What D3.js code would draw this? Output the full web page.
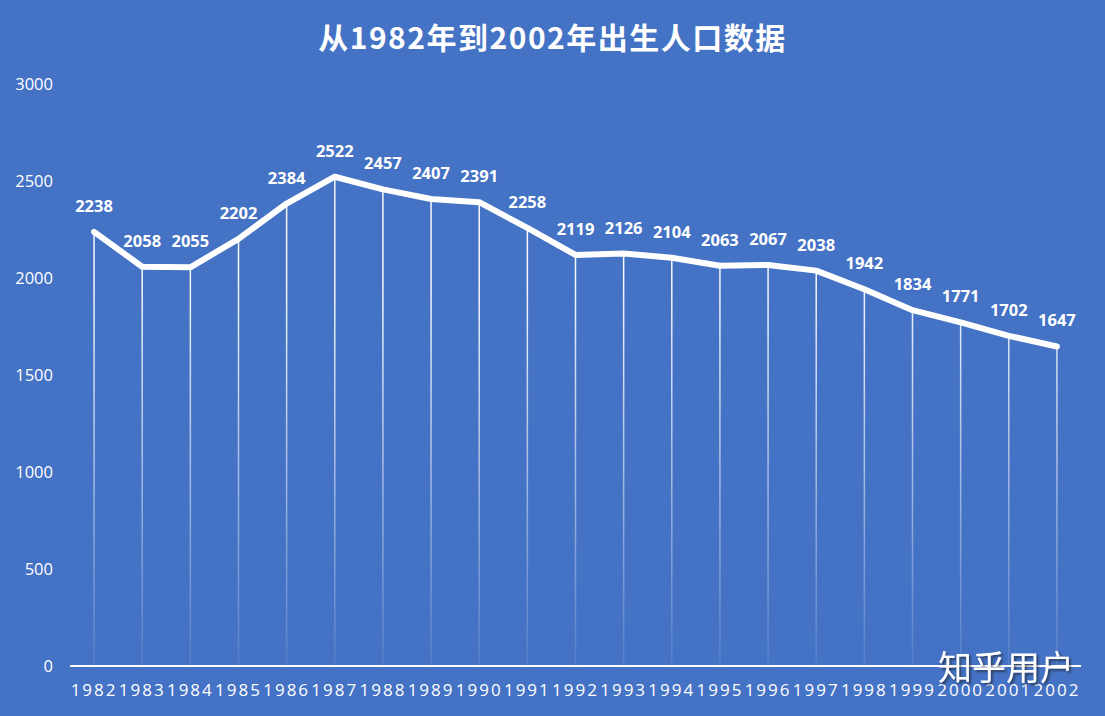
<!DOCTYPE html>
<html>
<head>
<meta charset="utf-8">
<script src="https://cdn.jsdelivr.net/npm/d3@7"></script>
<style>
  html, body { margin: 0; padding: 0; background: #4472c4; }
  svg { display: block; }
</style>
</head>
<body>
<div id="chart"></div>
<script>
const years = ['1982', '1983', '1984', '1985', '1986', '1987', '1988', '1989', '1990', '1991', '1992',
    '1993', '1994', '1995', '1996', '1997', '1998', '1999', '2000', '2001', '2002'];
const births = [2238, 2058, 2055, 2202, 2384, 2522, 2457, 2407, 2391, 2258, 2119,
    2126, 2104, 2063, 2067, 2038, 1942, 1834, 1771, 1702, 1647];
const yTicks = [0, 500, 1000, 1500, 2000, 2500, 3000];
const titleText = '从1982年到2002年出生人口数据';

const W = 1105, H = 716;
const margin = { top: 84, right: 24, bottom: 50, left: 70 };
const plotW = W - margin.left - margin.right;
const plotH = H - margin.top - margin.bottom;

const svg = d3.select('#chart')
    .append('svg')
    .attr('width', W)
    .attr('height', H);

svg.append('rect')
    .attr('width', W)
    .attr('height', H)
    .attr('fill', '#4472c4');

// fading drop lines
const defs = svg.append('defs');
const grad = defs.append('linearGradient')
    .attr('id', 'dropFade')
    .attr('gradientUnits', 'userSpaceOnUse')
    .attr('x1', 0).attr('x2', 0)
    .attr('y1', 200).attr('y2', plotH);
grad.append('stop').attr('offset', '0%').attr('stop-color', '#fff').attr('stop-opacity', 0.95);
grad.append('stop').attr('offset', '100%').attr('stop-color', '#fff').attr('stop-opacity', 0.08);

const shadow = defs.append('filter')
    .attr('id', 'wmShadow')
    .attr('x', '-10%').attr('y', '-20%')
    .attr('width', '130%').attr('height', '150%');
shadow.append('feDropShadow')
    .attr('dx', 2).attr('dy', 2)
    .attr('stdDeviation', 1)
    .attr('flood-color', '#222')
    .attr('flood-opacity', 0.6);

const g = svg.append('g')
    .attr('transform', `translate(${margin.left},${margin.top})`);

const x = d3.scaleBand()
    .domain(years)
    .range([0, plotW]);

const y = d3.scaleLinear()
    .domain([0, 3000])
    .range([plotH, 0]);

const cx = d => x(d) + x.bandwidth() / 2;

// title
svg.append('text')
    .attr('x', W / 2)
    .attr('y', 49)
    .attr('text-anchor', 'middle')
    .style('font-family', '"Noto Sans CJK SC", "Noto Sans", sans-serif')
    .style('font-size', '30px')
    .style('font-weight', 'bold')
    .style('letter-spacing', '1.5px')
    .attr('fill', '#fff')
    .text(titleText);

// y tick labels (no gridlines)
g.append('g')
    .selectAll('text')
    .data(yTicks)
    .enter()
    .append('text')
    .attr('x', -17)
    .attr('y', d => y(d))
    .attr('dy', '0.35em')
    .attr('text-anchor', 'end')
    .style('font-family', '"Open Sans", "Liberation Sans", sans-serif')
    .style('font-size', '16.5px')
    .attr('fill', '#fff')
    .text(d => d);

// drop lines
g.append('g')
    .selectAll('line')
    .data(years)
    .enter()
    .append('line')
    .attr('x1', d => cx(d))
    .attr('x2', d => cx(d))
    .attr('y1', (d, i) => y(births[i]))
    .attr('y2', plotH)
    .attr('stroke', 'url(#dropFade)')
    .attr('stroke-width', 1.5);

// x axis line
g.append('line')
    .attr('x1', 0)
    .attr('x2', plotW)
    .attr('y1', plotH)
    .attr('y2', plotH)
    .attr('stroke', '#fff')
    .attr('stroke-width', 2);

// x labels
g.append('g')
    .selectAll('text')
    .data(years)
    .enter()
    .append('text')
    .attr('x', d => cx(d))
    .attr('y', plotH + 30)
    .attr('text-anchor', 'middle')
    .style('font-family', '"Open Sans", "Liberation Sans", sans-serif')
    .style('font-size', '17px')
    .style('letter-spacing', '2px')
    .attr('fill', '#fff')
    .text(d => d);

// main line
const line = d3.line()
    .x((d, i) => cx(years[i]))
    .y(d => y(d));

g.append('path')
    .datum(births)
    .attr('d', line)
    .attr('fill', 'none')
    .attr('stroke', '#fff')
    .attr('stroke-width', 6)
    .attr('stroke-linejoin', 'round')
    .attr('stroke-linecap', 'round');

// data labels
g.append('g')
    .selectAll('text')
    .data(births)
    .enter()
    .append('text')
    .attr('x', (d, i) => cx(years[i]))
    .attr('y', d => y(d) - 20)
    .attr('text-anchor', 'middle')
    .style('font-family', '"Open Sans", "Liberation Sans", sans-serif')
    .style('font-size', '16.5px')
    .style('font-weight', 'bold')
    .attr('fill', '#fff')
    .text(d => d);

// watermark
svg.append('text')
    .attr('x', 1006)
    .attr('y', 680)
    .attr('text-anchor', 'middle')
    .style('font-family', '"Noto Sans CJK SC", sans-serif')
    .style('font-size', '34px')
    .attr('fill', '#fff')
    .attr('filter', 'url(#wmShadow)')
    .text('知乎用户');
</script>
</body>
</html>
